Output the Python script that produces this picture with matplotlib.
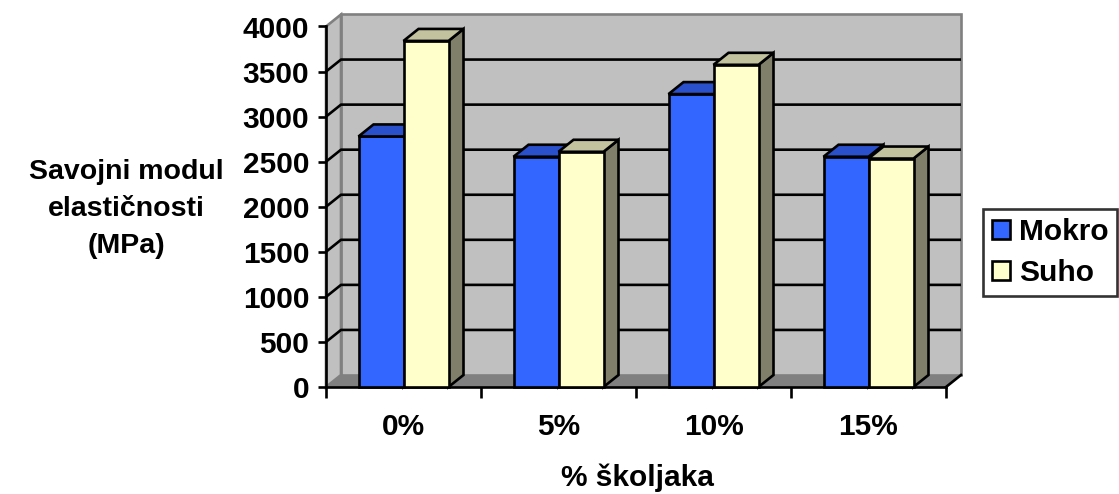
import matplotlib
matplotlib.use("Agg")
import matplotlib.pyplot as plt
from matplotlib.patches import Polygon, Patch
import numpy as np

# ---- data ----
categories = ["0%", "5%", "10%", "15%"]
mokro = [2780, 2555, 3250, 2555]
suho = [3840, 2610, 3575, 2535]
series_names = ["Mokro", "Suho"]
y_ticks = [0, 500, 1000, 1500, 2000, 2500, 3000, 3500, 4000]
y_label = "Savojni modul\nelastičnosti\n(MPa)"
x_label = "% školjaka"

# ---- style ----
plt.rcParams['font.family'] = ['Liberation Sans', 'DejaVu Sans']
FS = 21.5
W, H = 1119, 494
fig = plt.figure(figsize=(W / 100, H / 100), dpi=100)
# front plane of the plot in pixels
L, R, B0, T0 = 326, 946, 387, 26.5
ax = fig.add_axes([L / W, (H - B0) / H, (R - L) / W, (B0 - T0) / H])
n = len(categories)
ymax = y_ticks[-1]
ax.set_xlim(-0.5, n - 0.5)
ax.set_ylim(0, ymax)
for s in ax.spines.values():
    s.set_visible(False)

px_x = (R - L) / n          # px per x unit
px_y = (B0 - T0) / ymax     # px per value unit
dx = 15 / px_x
dy = 12 / px_y
bw = 45 / px_x

wall = "#C0C0C0"
edge_gray = "#808080"
floor_c = "#808080"
blue, blue_top = "#3366FF", "#2A50CC"
yel, yel_top, yel_side = "#FFFFCC", "#C2C29E", "#80806A"
lw = 1.9

x0, x1 = -0.5, n - 0.5
# back wall
ax.add_patch(Polygon([(x0 + dx, dy), (x1 + dx, dy), (x1 + dx, ymax + dy), (x0 + dx, ymax + dy)],
                     closed=True, facecolor=wall, edgecolor=edge_gray, lw=lw, zorder=1, clip_on=False))
# left wall
ax.add_patch(Polygon([(x0, 0), (x0, ymax), (x0 + dx, ymax + dy), (x0 + dx, dy)],
                     closed=True, facecolor=wall, edgecolor=edge_gray, lw=lw, zorder=1, clip_on=False))
# gridlines
for v in y_ticks[1:-1]:
    ax.plot([x0, x0 + dx, x1 + dx], [v, v + dy, v + dy], color="black", lw=lw, zorder=2,
            clip_on=False, solid_capstyle="butt")
# floor
ax.add_patch(Polygon([(x0, 0), (x1, 0), (x1 + dx, dy), (x0 + dx, dy)],
                     closed=True, facecolor=floor_c, edgecolor="none", zorder=2, clip_on=False))
ax.plot([x1, x1 + dx], [0, dy], color="black", lw=lw, zorder=3, clip_on=False)
ax.plot([x0, x1], [0, 0], color="black", lw=lw, zorder=3, clip_on=False)
ax.plot([x0, x0], [0, ymax], color="black", lw=lw, zorder=3, clip_on=False)


def bar3d(xl, h, front, top, side, z):
    xr = xl + bw
    ax.add_patch(Polygon([(xr, 0), (xr + dx, dy), (xr + dx, h + dy), (xr, h)], closed=True,
                         facecolor=side, edgecolor="black", lw=lw, zorder=z, clip_on=False,
                         joinstyle="miter"))
    ax.bar(xl, h, width=bw, align="edge", color=front, edgecolor="black", lw=lw, zorder=z + 0.1,
           clip_on=False)
    ax.add_patch(Polygon([(xl, h), (xr, h), (xr + dx, h + dy), (xl + dx, h + dy)], closed=True,
                         facecolor=top, edgecolor="black", lw=lw, zorder=z + 0.2, clip_on=False,
                         joinstyle="miter"))


xs = np.arange(n)
for i in range(n):
    bar3d(xs[i] - bw, mokro[i], blue, blue_top, "#1F3D99", 5 + i)
    bar3d(xs[i], suho[i], yel, yel_top, yel_side, 5.5 + i)

# ticks
ax.set_yticks(y_ticks)
ax.set_yticklabels([str(v) for v in y_ticks], fontsize=FS, fontweight="bold")
ax.tick_params(axis="y", direction="out", length=6, width=lw, pad=6)
ax.set_xticks(np.arange(n + 1) - 0.5)
ax.set_xticklabels([])
ax.tick_params(axis="x", which="major", direction="out", length=8, width=lw)
ax.set_xticks(xs, minor=True)
ax.set_xticklabels(categories, minor=True, fontsize=FS, fontweight="bold")
ax.tick_params(axis="x", which="minor", length=0, pad=19)

fig.text(126 / W, 1 - 209 / H, y_label, ha="center", va="center", fontsize=20.5,
         fontweight="bold", linespacing=1.55, multialignment="center")
fig.text(637 / W, 1 - 478 / H, x_label, ha="center", va="center", fontsize=FS, fontweight="bold")

handles = [Patch(facecolor=blue, edgecolor="black", lw=lw), Patch(facecolor=yel, edgecolor="black", lw=lw)]
leg = fig.legend(handles, series_names, loc="upper left", bbox_to_anchor=(983 / W, 1 - 209 / H),
                 prop={"size": FS, "weight": "bold"}, frameon=True, fancybox=False,
                 handlelength=0.6, handleheight=0.6, handletextpad=0.3, borderpad=0.3,
                 labelspacing=0.45, borderaxespad=0)
leg.get_frame().set_edgecolor("black")
leg.get_frame().set_linewidth(lw)

fig.savefig("out.png", dpi=100)
